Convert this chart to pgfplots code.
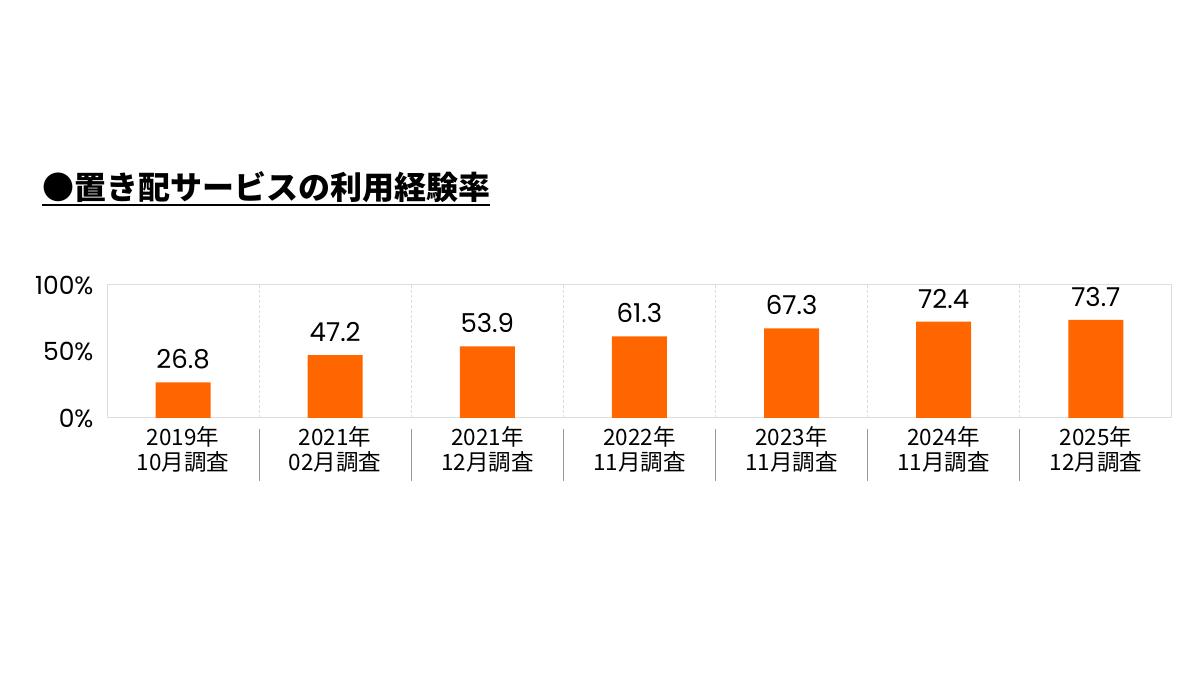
\documentclass[border=0pt]{standalone}
\usepackage{fontspec}
\setmainfont{Noto Sans CJK JP}
\newfontfamily\pop{Poppins}
\usepackage{pgfplots}
\pgfplotsset{compat=1.18}
\definecolor{barorange}{HTML}{FF6600}
\definecolor{boxgray}{HTML}{DDDDDD}
\definecolor{sepgray}{HTML}{999999}
\begin{document}
\begin{tikzpicture}[x=1pt,y=1pt]
\path[use as bounding box] (0,0) rectangle (1200,700);
\node[anchor=base west,inner sep=0pt,font=\fontsize{32}{32}\selectfont\bfseries] (t) at (42,500) {●置き配サービスの利用経験率};
\draw[line width=2pt] (42,495) -- (490,495);
\begin{axis}[
  at={(107pt,282pt)}, anchor=south west,
  scale only axis, width=1065pt, height=133pt,
  xmin=-0.5, xmax=6.5, ymin=0, ymax=100,
  xtick={0,1,2,3,4,5,6},
  xticklabels={{2019年\\10月調査},{2021年\\02月調査},{2021年\\12月調査},{2022年\\11月調査},{2023年\\11月調査},{2024年\\11月調査},{2025年\\12月調査}},
  xticklabel style={align=center, font=\fontsize{22.5}{25}\selectfont, yshift=-5pt},
  ytick={0,50,100},
  yticklabels={0\%,50\%,100\%},
  yticklabel style={font=\pop\fontsize{25}{25}\selectfont, xshift=-10pt},
  major tick length=0pt,
  axis line style={boxgray, line width=1pt},
  extra x ticks={0.5,1.5,2.5,3.5,4.5,5.5},
  extra x tick labels={},
  extra x tick style={grid=major, major grid style={boxgray, densely dashed, line width=0.8pt}},
  clip=false,
  nodes near coords,
  nodes near coords style={font=\pop\fontsize{26}{26}\selectfont, anchor=south, yshift=10pt, /pgf/number format/assume math mode=true, /pgf/number format/fixed, /pgf/number format/precision=1, /pgf/number format/fixed zerofill},
]
\addplot[ybar, bar width=55pt, fill=barorange, draw=none] coordinates {
(0,26.8) (1,47.2) (2,53.9) (3,61.3) (4,67.3) (5,72.4) (6,73.7)};
\foreach \s in {0.5,1.5,2.5,3.5,4.5,5.5}{
  \edef\temp{\noexpand\draw[sepgray, line width=1.2pt] (axis cs:\s,0) ++(0pt,-11pt) -- ++(0pt,-52pt);}
  \temp
}
\end{axis}
\end{tikzpicture}
\end{document}
